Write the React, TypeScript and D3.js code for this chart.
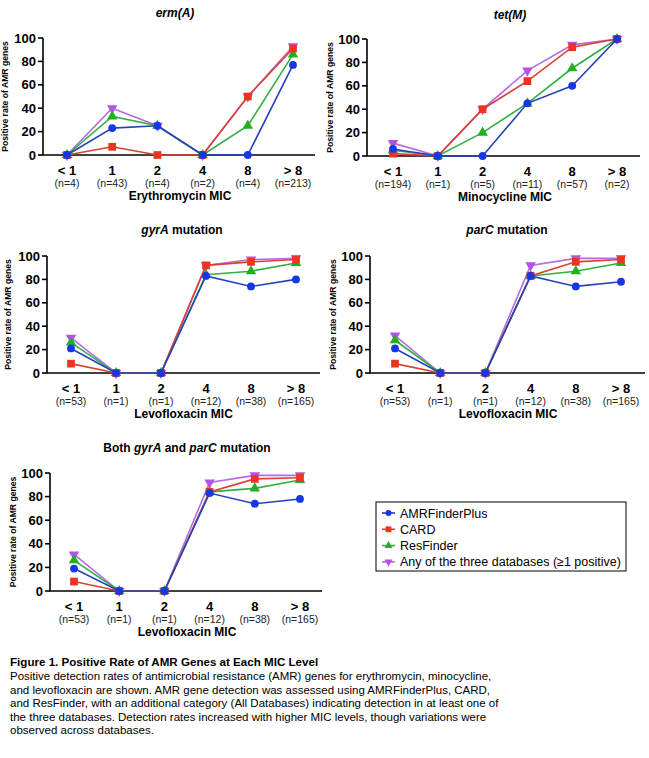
import React from "react";
import * as d3 from "d3";

// MIC categories shared by every panel
const micLevels = ["< 1", "1", "2", "4", "8", "> 8"];

// Isolate counts per MIC level
const ermN = ["(n=4)", "(n=43)", "(n=4)", "(n=2)", "(n=4)", "(n=213)"];
const tetN = ["(n=194)", "(n=1)", "(n=5)", "(n=11)", "(n=57)", "(n=2)"];
const levoN = ["(n=53)", "(n=1)", "(n=1)", "(n=12)", "(n=38)", "(n=165)"];

// Positive rate (%) per database — erm(A)
const ermAmr = [0, 23, 25, 0, 0, 77];
const ermCard = [0, 7, 0, 0, 50, 91];
const ermRes = [0, 33, 25, 0, 25, 86];
const ermAny = [0, 40, 25, 0, 50, 93];

// tet(M)
const tetAmr = [6, 0, 0, 45, 60, 100];
const tetCard = [2, 0, 40, 64, 93, 100];
const tetRes = [5, 0, 20, 45, 75, 100];
const tetAny = [11, 0, 40, 73, 95, 100];

// gyrA mutation
const gyrAmr = [21, 0, 0, 83, 74, 80];
const gyrCard = [8, 0, 0, 92, 95, 97];
const gyrRes = [26, 0, 0, 84, 87, 94];
const gyrAny = [30, 0, 0, 92, 97, 98];

// parC mutation
const parAmr = [21, 0, 0, 83, 74, 78];
const parCard = [8, 0, 0, 83, 95, 97];
const parRes = [28, 0, 0, 83, 87, 94];
const parAny = [32, 0, 0, 92, 98, 98];

// Both gyrA and parC mutation
const bothAmr = [19, 0, 0, 83, 74, 78];
const bothCard = [8, 0, 0, 84, 95, 96];
const bothRes = [26, 0, 0, 84, 87, 94];
const bothAny = [31, 0, 0, 92, 98, 98];

const yTicks = [0, 20, 40, 60, 80, 100];

const seriesNames = [
  "AMRFinderPlus",
  "CARD",
  "ResFinder",
  "Any of the three databases (\u22651 positive)",
];

type Style = { line: string; fill: string; shape: "circle" | "square" | "up" | "down" };
const styles: Style[] = [
  { line: "#2443b8", fill: "#1637e6", shape: "circle" },
  { line: "#d8412f", fill: "#ee3322", shape: "square" },
  { line: "#33b043", fill: "#22b022", shape: "up" },
  { line: "#b86ae0", fill: "#b452e8", shape: "down" },
];

// draw order: purple, green, red, blue on top
const drawOrder = [3, 2, 1, 0];

const FONT = "'Liberation Sans', Arial, Helvetica, sans-serif";

function markerPath(shape: Style["shape"]): { d: string; rot: number } {
  if (shape === "circle") return { d: d3.symbol(d3.symbolCircle, 48)() as string, rot: 0 };
  if (shape === "square") return { d: d3.symbol(d3.symbolSquare, 60)() as string, rot: 0 };
  if (shape === "up") return { d: d3.symbol(d3.symbolTriangle, 48)() as string, rot: 0 };
  return { d: d3.symbol(d3.symbolTriangle, 48)() as string, rot: 180 };
}

function Marker({ x, y, s }: { x: number; y: number; s: Style }) {
  const m = markerPath(s.shape);
  return (
    <path
      d={m.d}
      fill={s.fill}
      transform={`translate(${x},${y}) rotate(${m.rot})`}
    />
  );
}

type PanelProps = {
  title: React.ReactNode;
  titleX: number;
  titleY: number;
  axisX: number;
  xFirst: number;
  xLast: number;
  axisEnd: number;
  yTop: number;
  yBottom: number;
  labelX: number;
  xLabel: string;
  nLabels: string[];
  series: number[][];
};

function Panel(p: PanelProps) {
  const x = d3.scalePoint<string>().domain(micLevels).range([p.xFirst, p.xLast]);
  const y = d3.scaleLinear().domain([0, 100]).range([p.yBottom, p.yTop]);
  const line = d3
    .line<number>()
    .x((_, i) => x(micLevels[i]) as number)
    .y((v) => y(v));
  const midY = (p.yTop + p.yBottom) / 2;
  return (
    <g>
      <text
        x={p.titleX}
        y={p.titleY}
        textAnchor="middle"
        fontFamily={FONT}
        fontWeight="bold"
        fontSize={12}
      >
        {p.title}
      </text>
      {/* y axis */}
      <line x1={p.axisX} x2={p.axisX} y1={y(100)} y2={y(0)} stroke="#000" strokeWidth={1.6} />
      {yTicks.map((t) => (
        <g key={t}>
          <line
            x1={p.axisX - 5}
            x2={p.axisX}
            y1={y(t)}
            y2={y(t)}
            stroke="#000"
            strokeWidth={1.6}
          />
          <text
            x={p.axisX - 7}
            y={y(t) + 4.5}
            textAnchor="end"
            fontFamily={FONT}
            fontWeight="bold"
            fontSize={13}
          >
            {t}
          </text>
        </g>
      ))}
      {/* x axis */}
      <line
        x1={p.axisX - 0.8}
        x2={p.axisEnd}
        y1={y(0)}
        y2={y(0)}
        stroke="#000"
        strokeWidth={1.6}
      />
      {micLevels.map((c, i) => (
        <g key={c}>
          <text
            x={x(c)}
            y={p.yBottom + 20}
            textAnchor="middle"
            fontFamily={FONT}
            fontWeight="bold"
            fontSize={13}
          >
            {c}
          </text>
          <text
            x={x(c)}
            y={p.yBottom + 32}
            textAnchor="middle"
            fontFamily={FONT}
            fontSize={10.5}
            fill="#222"
          >
            {p.nLabels[i]}
          </text>
        </g>
      ))}
      <text
        x={(p.xFirst + p.xLast) / 2}
        y={p.yBottom + 45}
        textAnchor="middle"
        fontFamily={FONT}
        fontWeight="bold"
        fontSize={12}
      >
        {p.xLabel}
      </text>
      <text
        transform={`translate(${p.labelX},${midY}) rotate(-90)`}
        textAnchor="middle"
        dominantBaseline="central"
        fontFamily={FONT}
        fontWeight="bold"
        fontSize={8.6}
      >
        Positive rate of AMR genes
      </text>
      {drawOrder.map((si) => (
        <g key={si}>
          <path
            d={line(p.series[si]) as string}
            fill="none"
            stroke={styles[si].line}
            strokeWidth={1.6}
          />
          {p.series[si].map((v, i) => (
            <Marker key={i} x={x(micLevels[i]) as number} y={y(v)} s={styles[si]} />
          ))}
        </g>
      ))}
    </g>
  );
}

const captionTitle = "Figure 1. Positive Rate of AMR Genes at Each MIC Level";
const captionLines = [
  "Positive detection rates of antimicrobial resistance (AMR) genes for erythromycin, minocycline,",
  "and levofloxacin are shown. AMR gene detection was assessed using AMRFinderPlus, CARD,",
  "and ResFinder, with an additional category (All Databases) indicating detection in at least one of",
  "the three databases. Detection rates increased with higher MIC levels, though variations were",
  "observed across databases.",
];

export default function App() {
  const legendX = 376;
  const legendY = 502;
  return (
    <svg
      width={649}
      height={758}
      style={{ position: "absolute", left: 0, top: 0, background: "#fff" }}
    >
      <rect width={649} height={758} fill="#fff" />
      <Panel
        title={<tspan fontStyle="italic">erm(A)</tspan>}
        titleX={175}
        titleY={17}
        axisX={43}
        xFirst={67}
        xLast={293}
        axisEnd={315}
        yTop={38}
        yBottom={155}
        labelX={5}
        xLabel="Erythromycin MIC"
        nLabels={ermN}
        series={[ermAmr, ermCard, ermRes, ermAny]}
      />
      <Panel
        title={<tspan fontStyle="italic">tet(M)</tspan>}
        titleX={510}
        titleY={19}
        axisX={367}
        xFirst={393}
        xLast={617}
        axisEnd={640}
        yTop={39}
        yBottom={156}
        labelX={330}
        xLabel="Minocycline MIC"
        nLabels={tetN}
        series={[tetAmr, tetCard, tetRes, tetAny]}
      />
      <Panel
        title={
          <>
            <tspan fontStyle="italic">gyrA</tspan> mutation
          </>
        }
        titleX={182}
        titleY={234}
        axisX={47}
        xFirst={71}
        xLast={296}
        axisEnd={320}
        yTop={256}
        yBottom={373}
        labelX={8}
        xLabel="Levofloxacin MIC"
        nLabels={levoN}
        series={[gyrAmr, gyrCard, gyrRes, gyrAny]}
      />
      <Panel
        title={
          <>
            <tspan fontStyle="italic">parC</tspan> mutation
          </>
        }
        titleX={507}
        titleY={234}
        axisX={370}
        xFirst={395}
        xLast={621}
        axisEnd={645}
        yTop={256}
        yBottom={373}
        labelX={333}
        xLabel="Levofloxacin MIC"
        nLabels={levoN}
        series={[parAmr, parCard, parRes, parAny]}
      />
      <Panel
        title={
          <>
            Both <tspan fontStyle="italic">gyrA</tspan> and{" "}
            <tspan fontStyle="italic">parC</tspan> mutation
          </>
        }
        titleX={187}
        titleY={452}
        axisX={50}
        xFirst={74}
        xLast={300}
        axisEnd={322}
        yTop={473}
        yBottom={591}
        labelX={13}
        xLabel="Levofloxacin MIC"
        nLabels={levoN}
        series={[bothAmr, bothCard, bothRes, bothAny]}
      />
      {/* legend */}
      <rect
        x={legendX}
        y={legendY}
        width={250}
        height={69}
        fill="#fff"
        stroke="#000"
        strokeWidth={1}
      />
      {seriesNames.map((name, i) => {
        const cy = legendY + 11 + i * 16.3;
        return (
          <g key={name}>
            <line x1={382} x2={395} y1={cy} y2={cy} stroke={styles[i].line} strokeWidth={1.6} />
            <g transform={`translate(${388.5},${cy}) scale(0.75)`}>
              <Marker x={0} y={0} s={styles[i]} />
            </g>
            <text x={400} y={cy + 4.5} fontFamily={FONT} fontSize={12.5}>
              {name}
            </text>
          </g>
        );
      })}
      {/* caption */}
      <text x={10} y={666} fontFamily={FONT} fontWeight="bold" fontSize={11.6}>
        {captionTitle}
      </text>
      {captionLines.map((l, i) => (
        <text key={i} x={10} y={680 + i * 13.6} fontFamily={FONT} fontSize={11.5}>
          {l}
        </text>
      ))}
    </svg>
  );
}
